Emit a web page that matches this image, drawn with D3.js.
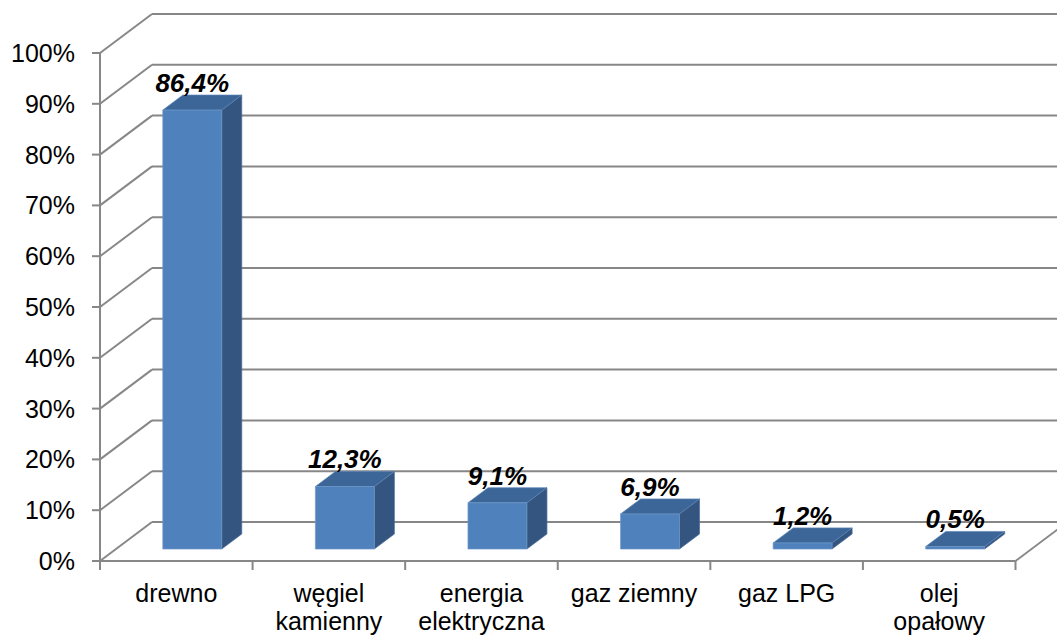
<!DOCTYPE html>
<meta charset="utf-8">
<title>Ogrzewanie - 3D kolumny</title>
<style>
body { margin: 0; background: #fff; }
text { font-family: "Liberation Sans", Arial, sans-serif; fill: #000; }
</style>
<script src="https://d3js.org/d3.v7.min.js"></script>
<div id="chart"></div>
<script>

// data
var categories = ["drewno", "węgiel\nkamienny", "energia\nelektryczna", "gaz ziemny", "gaz LPG", "olej\nopałowy"];
var values = [86.4, 12.3, 9.1, 6.9, 1.2, 0.5];
var yTicks = [0, 10, 20, 30, 40, 50, 60, 70, 80, 90, 100];

var width = 1057, height = 635;
var x0 = 100, plotW = 915.5;      // front edge of the floor
var depthX = 52, depthY = 39;     // 3D offset of the back wall

var svg = d3.select("#chart").append("svg")
  .attr("width", width)
  .attr("height", height);

var x = d3.scaleBand().domain(categories).range([x0, x0 + plotW]);
var y = d3.scaleLinear().domain([0, 100]).range([561, 53]);

var pl = d3.formatLocale({decimal: ",", thousands: " ", grouping: [3], currency: ["", " zł"]});
var fmt = function(v) { return pl.format(".1f")(v) + "%"; };

var gridColor = "#878787";

// back wall gridlines
svg.append("g").selectAll("line.back")
  .data(yTicks).enter()
  .append("line")
    .attr("x1", x0 + depthX)
    .attr("x2", x0 + plotW + depthX)
    .attr("y1", function(d) { return y(d) - depthY; })
    .attr("y2", function(d) { return y(d) - depthY; })
    .style("stroke", gridColor)
    .style("stroke-width", 2);

// side wall diagonals
svg.append("g").selectAll("line.side")
  .data(yTicks).enter()
  .append("line")
    .attr("x1", x0)
    .attr("x2", x0 + depthX)
    .attr("y1", function(d) { return y(d); })
    .attr("y2", function(d) { return y(d) - depthY; })
    .style("stroke", gridColor)
    .style("stroke-width", 2);

// floor: front edge and right diagonal
svg.append("line")
  .attr("x1", x0).attr("x2", x0 + plotW)
  .attr("y1", y(0)).attr("y2", y(0))
  .style("stroke", gridColor).style("stroke-width", 2);
svg.append("line")
  .attr("x1", x0 + plotW).attr("x2", x0 + plotW + depthX)
  .attr("y1", y(0)).attr("y2", y(0) - depthY)
  .style("stroke", gridColor).style("stroke-width", 2);

// vertical axis line + ticks
svg.append("line")
  .attr("x1", x0).attr("x2", x0)
  .attr("y1", y(100)).attr("y2", y(0))
  .style("stroke", gridColor).style("stroke-width", 2);
svg.append("g").selectAll("line")
  .data(yTicks).enter()
  .append("line")
    .attr("x1", x0 - 8).attr("x2", x0)
    .attr("y1", function(d) { return y(d); })
    .attr("y2", function(d) { return y(d); })
    .style("stroke", gridColor).style("stroke-width", 2);

// category ticks on the floor front edge
svg.append("g").selectAll("line")
  .data(d3.range(categories.length + 1)).enter()
  .append("line")
    .attr("x1", function(i) { return x0 + i * x.step(); })
    .attr("x2", function(i) { return x0 + i * x.step(); })
    .attr("y1", y(0)).attr("y2", y(0) + 9)
    .style("stroke", gridColor).style("stroke-width", 2);

// y tick labels
svg.append("g").selectAll("text")
  .data(yTicks).enter()
  .append("text")
    .attr("x", 75)
    .attr("y", function(d) { return y(d) + 9; })
    .attr("text-anchor", "end")
    .style("font-size", "25px")
    .text(function(d) { return d + "%"; });

// bars
var z0 = 0.307, z1 = 0.693;   // depth position of the bars
var bw = x.bandwidth();
function pt(px, py, z) { return [px + depthX * z, py - depthY * z]; }

var bars = svg.append("g").selectAll("g")
  .data(categories.map(function(c, i) { return {cat: c, v: values[i]}; }))
  .enter().append("g");

bars.each(function(d) {
  var g = d3.select(this);
  var L = x(d.cat) + bw * 0.307, R = x(d.cat) + bw * 0.693;
  var yt = y(d.v), yb = y(0);
  var side = [pt(R, yt, z0), pt(R, yt, z1), pt(R, yb, z1), pt(R, yb, z0)];
  var top = [pt(L, yt, z0), pt(R, yt, z0), pt(R, yt, z1), pt(L, yt, z1)];
  var front = [pt(L, yt, z0), pt(R, yt, z0), pt(R, yb, z0), pt(L, yb, z0)];
  g.append("polygon").attr("points", side.join(" "))
    .style("fill", "#34557f").style("stroke", "#4a6d99").style("stroke-width", 0.7);
  g.append("polygon").attr("points", top.join(" "))
    .style("fill", "#3d6698").style("stroke", "#5b84b6").style("stroke-width", 0.7);
  g.append("polygon").attr("points", front.join(" "))
    .style("fill", "#4f81bd").style("stroke", "#6f98c9").style("stroke-width", 0.7);
});

// data labels
bars.append("text")
  .attr("x", function(d) { return x(d.cat) + bw / 2 + depthX * z0; })
  .attr("y", function(d) { return y(d.v) - depthY * z1 - 3; })
  .attr("text-anchor", "middle")
  .style("font-size", "26px")
  .style("font-weight", "bold")
  .style("font-style", "italic")
  .text(function(d) { return fmt(d.v); });

// category labels
var cl = svg.append("g").selectAll("text")
  .data(categories).enter()
  .append("text")
    .attr("transform", function(d) { return "translate(" + (x(d) + bw / 2) + ",602)"; })
    .attr("text-anchor", "middle")
    .style("font-size", "25px");
cl.selectAll("tspan")
  .data(function(d) { return d.split("\n"); })
  .enter().append("tspan")
    .attr("x", 0)
    .attr("dy", function(d, i) { return i === 0 ? 0 : 28; })
    .text(function(d) { return d; });

</script>
